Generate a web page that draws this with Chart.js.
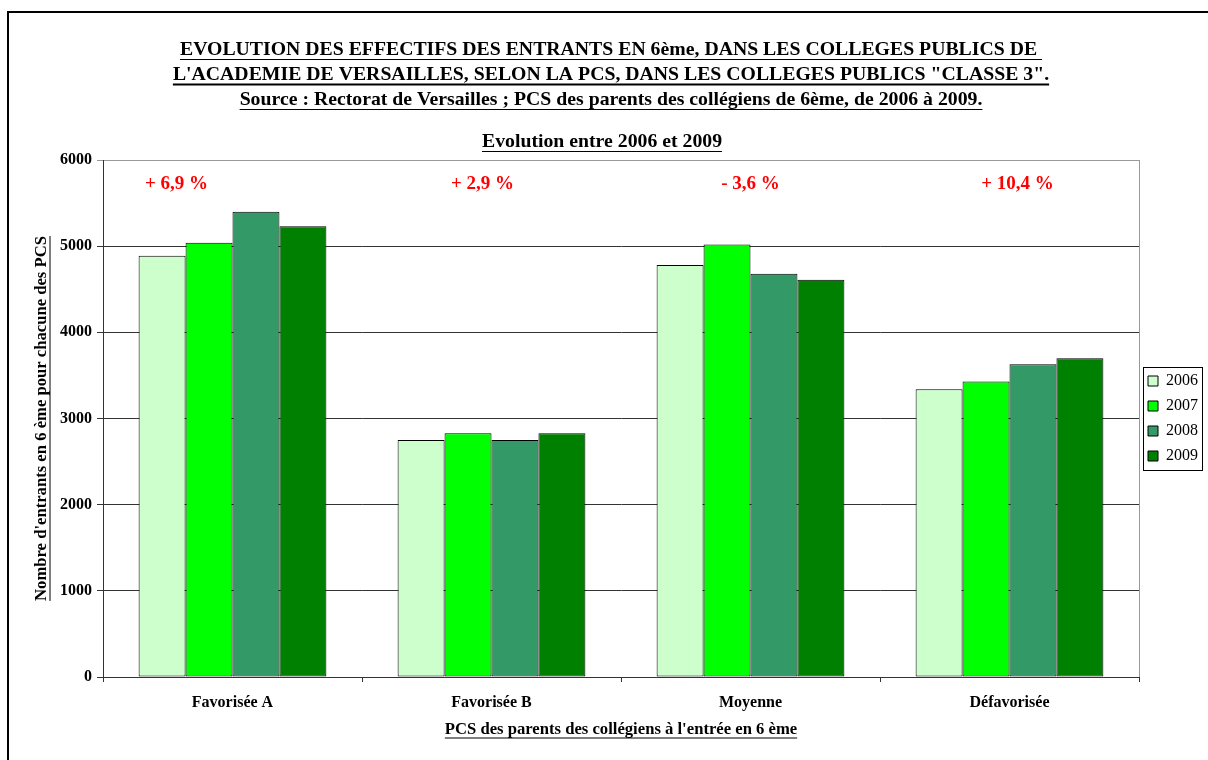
<!DOCTYPE html>
<html>
<head>
<meta charset="utf-8">
<script src="https://cdn.jsdelivr.net/npm/chart.js@4/dist/chart.umd.min.js"></script>
<style>
  html, body { margin: 0; padding: 0; background: #fff; }
  #wrap { position: relative; width: 1208px; height: 760px; }
</style>
</head>
<body>
<div id="wrap"><canvas id="chart" width="1208" height="760"></canvas></div>
<script>
// categories (PCS of the parents)
const categories = ['Favorisée A', 'Favorisée B', 'Moyenne', 'Défavorisée'];
const years = ['2006', '2007', '2008', '2009'];

// number of pupils entering 6ème, per year
const values2006 = [4890, 2750, 4780, 3340];
const values2007 = [5040, 2830, 5020, 3430];
const values2008 = [5400, 2750, 4680, 3630];
const values2009 = [5230, 2830, 4610, 3700];

// evolution 2006 -> 2009, written above each group
const evolution = ['+ 6,9 %', '+ 2,9 %', '- 3,6 %', '+ 10,4 %'];

const titleLines = [
    'EVOLUTION DES EFFECTIFS DES ENTRANTS EN 6ème, DANS LES COLLEGES PUBLICS DE ',
    'L\'ACADEMIE DE VERSAILLES, SELON LA PCS, DANS LES COLLEGES PUBLICS "CLASSE 3".',
    'Source : Rectorat de Versailles ; PCS des parents des collégiens de 6ème, de 2006 à 2009.',
];
const subTitle = 'Evolution entre 2006 et 2009';
const yTitle = 'Nombre d\'entrants en 6 ème pour chacune des PCS';
const xTitle = 'PCS des parents des collégiens à l\'entrée en 6 ème';

const colors = ['#CCFFCC', '#00FF00', '#339966', '#008000'];
const SERIF = '"Liberation Serif", "Times New Roman", serif';

function underlined(ctx, text, x, y, size, opts = {}) {
    ctx.save();
    ctx.font = `bold ${size}px ${SERIF}`;
    ctx.fillStyle = opts.color || '#000';
    ctx.textAlign = 'center';
    ctx.textBaseline = 'middle';
    const sx = opts.scaleX || 1;
    ctx.translate(x, y);
    if (opts.rotate) ctx.rotate(opts.rotate);
    ctx.scale(sx, 1);
    ctx.fillText(text, 0, 0);
    if (opts.underline !== false) {
        const w = ctx.measureText(text).width;
        ctx.strokeStyle = opts.color || '#000';
        ctx.lineWidth = opts.lineWidth || 1;
        ctx.beginPath();
        ctx.moveTo(-w / 2, size * 0.5);
        ctx.lineTo(w / 2, size * 0.5);
        ctx.stroke();
    }
    ctx.restore();
}

const decorations = {
    id: 'decorations',
    afterLayout(chart) {
        // centre the legend on the plot area, not on the whole canvas
        const lg = chart.legend;
        if (!lg) return;
        const h = lg.bottom - lg.top;
        const mid = (chart.chartArea.top + chart.chartArea.bottom) / 2;
        lg.top = mid - h / 2;
        lg.bottom = mid + h / 2;
    },
    beforeDraw(chart) {
        const { ctx, chartArea } = chart;
        // plot frame
        ctx.save();
        ctx.strokeStyle = '#999';
        ctx.lineWidth = 1;
        ctx.strokeRect(chartArea.left + 0.5, chartArea.top + 0.5,
            chartArea.right - chartArea.left, chartArea.bottom - chartArea.top);
        ctx.restore();
    },
    afterDraw(chart) {
        const { ctx, chartArea, scales } = chart;

        // outer frame
        ctx.save();
        ctx.strokeStyle = '#000';
        ctx.lineWidth = 2;
        ctx.beginPath();
        ctx.moveTo(8, 760);
        ctx.lineTo(8, 12);
        ctx.lineTo(1208, 12);
        ctx.stroke();
        ctx.restore();

        // titles
        titleLines.forEach((t, i) => {
            underlined(ctx, t, 611, 50 + i * 25, 19, { scaleX: 1.04, lineWidth: i === 1 ? 2 : 1 });
        });
        underlined(ctx, subTitle, 602, 142, 19, { scaleX: 1.04 });

        // axis titles
        underlined(ctx, yTitle, 42, (chartArea.top + chartArea.bottom) / 2, 16,
            { rotate: -Math.PI / 2, scaleX: 1.04 });
        underlined(ctx, xTitle, (chartArea.left + chartArea.right) / 2, 730, 16, { scaleX: 1.04 });

        // evolution labels
        const offsets = [-56, -9, 0, 8];
        evolution.forEach((t, i) => {
            const x = scales.x.getPixelForValue(i) + offsets[i];
            underlined(ctx, t, x, chartArea.top + 24, 19, { color: '#FF0000', underline: false });
        });

        // legend frame
        const lg = chart.legend;
        const col = lg.columnSizes && lg.columnSizes[0];
        if (col) {
            const pad = lg.options.labels.padding;
            const firstTop = ((lg.top + pad) + (lg.bottom - col.height)) / 2;
            const x0 = lg.left + pad - 5;
            const y0 = firstTop - 6;
            const x1 = lg.left + pad + col.width + 4;
            const y1 = firstTop + col.height - pad + 6;
            ctx.save();
            ctx.strokeStyle = '#000';
            ctx.lineWidth = 1;
            ctx.strokeRect(Math.round(x0) + 0.5, Math.round(y0) + 0.5, Math.round(x1 - x0), Math.round(y1 - y0));
            ctx.restore();
        }
    },
};

const seriesValues = [values2006, values2007, values2008, values2009];

new Chart(document.getElementById('chart'), {
    type: 'bar',
    data: {
        labels: categories,
        datasets: years.map((y, i) => ({
            label: y,
            data: seriesValues[i],
            backgroundColor: colors[i],
            borderColor: '#000',
            borderWidth: 1,
            borderSkipped: false,
            categoryPercentage: 0.725,
            barPercentage: 1.0,
        })),
    },
    options: {
        responsive: false,
        animation: false,
        layout: { padding: { top: 160, left: 0, right: 0, bottom: 0 } },
        plugins: {
            title: { display: false },
            tooltip: { enabled: false },
            legend: {
                display: true,
                position: 'right',
                align: 'center',
                labels: {
                    boxWidth: 10,
                    boxHeight: 10,
                    padding: 9,
                    color: '#000',
                    font: { family: SERIF, size: 16 },
                },
            },
        },
        scales: {
            x: {
                afterFit(scale) { scale.height = 83; },
                grid: {
                    display: true,
                    drawOnChartArea: false,
                    drawTicks: true,
                    tickLength: 5,
                    offset: true,
                    color: '#333',
                },
                border: { display: true, color: '#333', width: 1 },
                ticks: {
                    color: '#000',
                    padding: 11,
                    font: { family: SERIF, size: 16, weight: 'bold' },
                },
            },
            y: {
                min: 0,
                max: 6000,
                afterFit(scale) { scale.width = 103; },
                ticks: {
                    stepSize: 1000,
                    color: '#000',
                    padding: 5,
                    font: { family: SERIF, size: 16, weight: 'bold' },
                    callback: (v) => String(v),
                },
                grid: {
                    tickLength: 6,
                    color: (c) => (c.tick && c.tick.value === 6000 ? '#999' : '#333'),
                },
                border: { display: true, color: '#333', width: 1 },
            },
        },
    },
    plugins: [decorations],
});
</script>
</body>
</html>
